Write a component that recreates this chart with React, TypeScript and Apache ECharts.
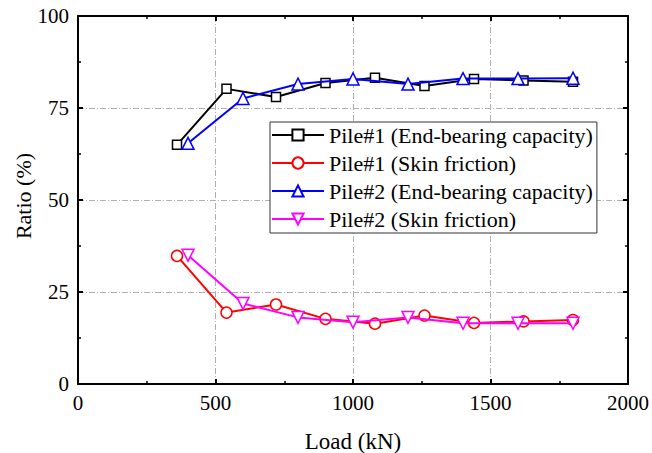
import React, { useEffect, useRef } from "react";
import * as echarts from "echarts";

const pile1Load = [360, 540, 720, 900, 1080, 1260, 1440, 1620, 1800];
const pile1End = [65.0, 80.2, 78.0, 81.8, 83.2, 81.0, 82.9, 82.5, 82.1];
const pile1Skin = [34.8, 19.4, 21.6, 17.7, 16.4, 18.6, 16.6, 17.0, 17.4];
const pile2Load = [400, 600, 800, 1000, 1200, 1400, 1600, 1800];
const pile2End = [65.4, 77.6, 81.5, 82.9, 81.5, 83.0, 83.0, 83.1];
const pile2Skin = [35.0, 21.9, 18.1, 16.8, 18.1, 16.5, 16.5, 16.5];
const seriesNames = [
  "Pile#1 (End-bearing capacity)",
  "Pile#1 (Skin friction)",
  "Pile#2 (End-bearing capacity)",
  "Pile#2 (Skin friction)",
];
const xTitle = "Load (kN)";
const yTitle = "Ratio (%)";

const FONT = "serif";

function zip(xs: number[], ys: number[]) {
  return xs.map((x, i) => [x, ys[i]]);
}

export default function App() {
  const ref = useRef<HTMLDivElement>(null);
  useEffect(() => {
    document.body.style.margin = "0";
    if (!ref.current) return;
    const chart = echarts.init(ref.current, undefined, { renderer: "svg" });
    const gridLine = { show: true, lineStyle: { color: "#b0b0b0", width: 1, type: [6, 2, 1, 2] as any } };
    const axisLine = { show: true, onZero: false, lineStyle: { color: "#000", width: 2 } };
    const tick = { show: true, inside: true, length: 5, lineStyle: { color: "#000", width: 2 } };
    const minor = { show: true, splitNumber: 2, length: 3, lineStyle: { color: "#000", width: 1.5 } };
    const fmt = (v: number) => String(v);
    const mk = (name: string, data: number[][], color: string, symbol: string, size: number, z: number, rot = 0) => ({
      type: "line",
      name,
      data,
      symbol,
      symbolSize: size,
      symbolRotate: rot,
      showAllSymbol: true,
      z,
      lineStyle: { color, width: 2 },
      itemStyle: { color: "#fff", borderColor: color, borderWidth: 1.5 },
    });
    chart.setOption({
      animation: false,
      grid: { left: 78, right: 23, top: 16, bottom: 69 },
      legend: {
        orient: "vertical",
        left: 270,
        top: 122,
        padding: [2, 4, 3, 1],
        itemGap: 6,
        itemWidth: 52,
        itemHeight: 14,
        borderColor: "#333",
        borderWidth: 1,
        backgroundColor: "#fff",
        textStyle: { fontFamily: FONT, fontSize: 22, color: "#000" },
        data: seriesNames,
      },
      graphic: [
        {
          type: "text",
          x: 353,
          y: 441,
          style: { text: xTitle, fontFamily: FONT, fontSize: 23, fill: "#000", align: "center", verticalAlign: "middle" },
        },
        {
          type: "text",
          x: 23,
          y: 196,
          rotation: Math.PI / 2,
          style: { text: yTitle, fontFamily: FONT, fontSize: 22, fill: "#000", align: "center", verticalAlign: "middle" },
        },
      ],
      xAxis: [
        {
          type: "value",
          min: 0,
          max: 2000,
          interval: 500,
          axisLine,
          axisTick: tick,
          minorTick: minor,
          axisLabel: { fontFamily: FONT, fontSize: 21, color: "#000", margin: 8, formatter: fmt },
          splitLine: gridLine,
        },
        {
          type: "value",
          position: "top",
          min: 0,
          max: 2000,
          interval: 500,
          axisLine,
          axisTick: tick,
          minorTick: minor,
          axisLabel: { show: false },
          splitLine: { show: false },
        },
      ],
      yAxis: [
        {
          type: "value",
          min: 0,
          max: 100,
          interval: 25,
          axisLine,
          axisTick: tick,
          minorTick: minor,
          axisLabel: { fontFamily: FONT, fontSize: 21, color: "#000", margin: 9, formatter: fmt },
          splitLine: gridLine,
        },
        {
          type: "value",
          position: "right",
          min: 0,
          max: 100,
          interval: 25,
          axisLine,
          axisTick: tick,
          minorTick: minor,
          axisLabel: { show: false },
          splitLine: { show: false },
        },
      ],
      series: [
        mk(seriesNames[0], zip(pile1Load, pile1End), "#000000", "rect", 9, 3),
        mk(seriesNames[1], zip(pile1Load, pile1Skin), "#ff0000", "circle", 11, 3),
        mk(seriesNames[2], zip(pile2Load, pile2End), "#0000ff", "triangle", 12, 4),
        mk(seriesNames[3], zip(pile2Load, pile2Skin), "#ff00ff", "triangle", 12, 4, 180),
      ],
    });
    return () => chart.dispose();
  }, []);
  return <div ref={ref} style={{ width: 652, height: 453 }} />;
}
